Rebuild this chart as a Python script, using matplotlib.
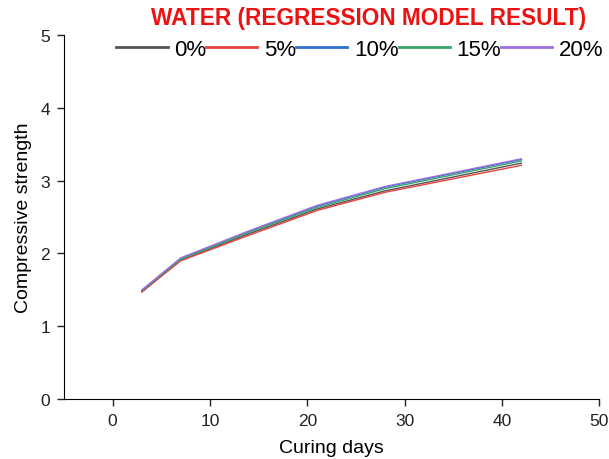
import matplotlib
matplotlib.use("Agg")
import matplotlib.pyplot as plt

days = [3, 7, 14, 21, 28, 42]
labels = ["0%", "5%", "10%", "15%", "20%"]
s0 = [1.48, 1.91, 2.27, 2.61, 2.86, 3.24]
s5 = [1.47, 1.90, 2.25, 2.59, 2.84, 3.21]
s10 = [1.49, 1.93, 2.30, 2.65, 2.91, 3.29]
s15 = [1.49, 1.92, 2.29, 2.63, 2.89, 3.27]
s20 = [1.50, 1.94, 2.31, 2.66, 2.92, 3.30]
series = [s0, s5, s10, s15, s20]
colors = ["#555555", "#e8403f", "#2f6fd0", "#3aa46a", "#a070e0"]

plt.rcParams['font.family'] = ['Liberation Sans', 'DejaVu Sans']

fig = plt.figure(figsize=(6.09, 4.60), dpi=100)
ax = fig.add_axes([0.105, 0.130, 0.879, 0.792])

for vals, lab, c in zip(series, labels, colors):
    ax.plot(days, vals, color=c, lw=1.0, label=lab)

ax.set_xlim(-5, 50)
ax.set_ylim(0, 5)
ax.set_xticks([0, 10, 20, 30, 40, 50])
ax.set_yticks([0, 1, 2, 3, 4, 5])
ax.spines['top'].set_visible(False)
ax.spines['right'].set_visible(False)
ax.tick_params(direction='out', length=5, width=1, labelsize=12.5, colors='#222222', pad=5)
ax.set_xlabel("Curing days", fontsize=14, labelpad=7.5)
ax.set_ylabel("Compressive strength", fontsize=14, labelpad=6)

fig.text(0.606, 0.960, "WATER (REGRESSION MODEL RESULT)", color="#ee1111",
         fontsize=16.3, fontweight='bold', ha='center', va='center')

leg = ax.legend(loc='upper left', bbox_to_anchor=(0.098, 0.99), ncol=5, frameon=False,
                fontsize=16, handlelength=2.3, handletextpad=0.3, columnspacing=0.0,
                borderaxespad=0.0, borderpad=0.0)
for h in leg.get_lines():
    h.set_linewidth(2.0)

fig.savefig("out.png", dpi=100)
